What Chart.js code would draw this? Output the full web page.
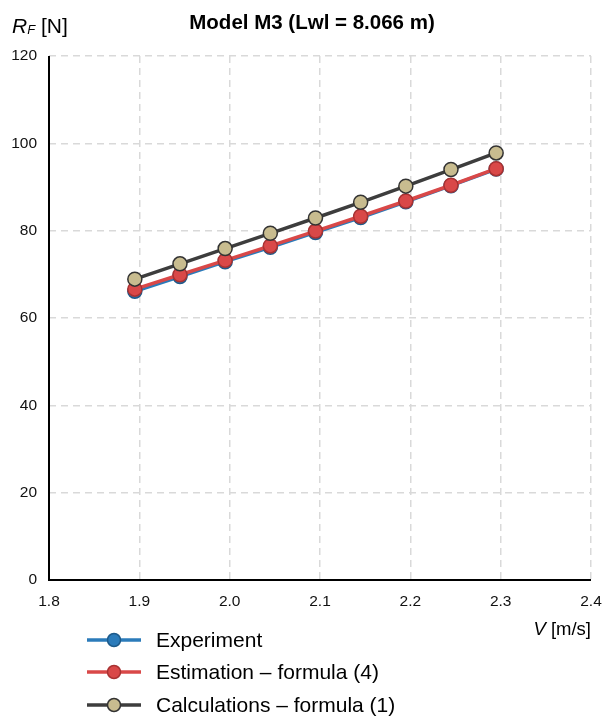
<!DOCTYPE html>
<html>
<head>
<meta charset="utf-8">
<script src="https://cdn.jsdelivr.net/npm/chart.js@4.4.1/dist/chart.umd.min.js"></script>
<style>
  html, body { margin: 0; padding: 0; background: #fff; }
  #wrap { width: 604px; height: 717px; position: relative; }
</style>
</head>
<body>
<div id="wrap"><canvas id="chartM3" width="604" height="717"></canvas></div>
<script>
// velocity V [m/s]
const speeds = [1.895, 1.945, 1.995, 2.045, 2.095, 2.145, 2.195, 2.245, 2.295];
// frictional resistance R_F [N]
const experiment   = [66.1, 69.5, 72.9, 76.2, 79.6, 83.0, 86.6, 90.3, 94.1];
const estimation   = [66.6, 69.9, 73.2, 76.5, 79.9, 83.3, 86.8, 90.4, 94.2];
const calculations = [68.9, 72.4, 75.9, 79.4, 82.9, 86.5, 90.2, 94.0, 97.8];
const xTicks = [1.8, 1.9, 2.0, 2.1, 2.2, 2.3, 2.4];
const yTicks = [0, 20, 40, 60, 80, 100, 120];

const FONT = 'Arial, "Liberation Sans", sans-serif';

function toPoints(ys) {
  return ys.map((y, i) => ({ x: speeds[i], y: y }));
}

// titles, axis names and legend drawn on the canvas
const extras = {
  id: 'extras',
  afterDraw(chart) {
    const c = chart.ctx;
    c.save();
    c.fillStyle = '#000';
    c.textBaseline = 'middle';

    c.font = 'bold 20.5px ' + FONT;
    c.textAlign = 'center';
    c.fillText('Model M3 (Lwl = 8.066 m)', 312, 23);

    // R_F [N]
    c.textAlign = 'left';
    c.font = 'italic 21px ' + FONT;
    c.fillText('R', 12, 27);
    let w = c.measureText('R').width;
    c.font = 'italic 13px ' + FONT;
    c.fillText('F', 12 + w, 30);
    let w2 = c.measureText('F').width;
    c.font = '21px ' + FONT;
    c.fillText(' [N]', 12 + w + w2, 27);

    // V [m/s]
    c.font = '18.5px ' + FONT;
    c.textAlign = 'right';
    c.fillText(' [m/s]', 591, 630);
    const vw = c.measureText(' [m/s]').width;
    c.font = 'italic 18.5px ' + FONT;
    c.fillText('V', 591 - vw, 630);

    // legend
    const rows = [640, 672, 705];
    chart.data.datasets.forEach((ds, i) => {
      const y = rows[i];
      c.strokeStyle = ds.borderColor;
      c.lineWidth = 3.5;
      c.beginPath();
      c.moveTo(87, y);
      c.lineTo(141, y);
      c.stroke();
      c.beginPath();
      c.arc(114, y, 6.5, 0, Math.PI * 2);
      c.fillStyle = ds.pointBackgroundColor;
      c.fill();
      c.lineWidth = 1.5;
      c.strokeStyle = ds.pointBorderColor;
      c.stroke();
      c.fillStyle = '#000';
      c.textAlign = 'left';
      c.font = '21px ' + FONT;
      c.fillText(ds.label, 156, y + 1);
    });

    // axis lines
    const a = chart.chartArea;
    c.strokeStyle = '#000';
    c.lineWidth = 2;
    c.beginPath();
    c.moveTo(a.left, a.top);
    c.lineTo(a.left, a.bottom);
    c.lineTo(a.right, a.bottom);
    c.stroke();
    c.restore();
  }
};

new Chart(document.getElementById('chartM3'), {
  type: 'line',
  data: {
    datasets: [
      {
        label: 'Experiment',
        data: toPoints(experiment),
        borderColor: '#2b7bba',
        pointBackgroundColor: '#2b7bba',
        pointBorderColor: '#1d5a8a',
        order: 3
      },
      {
        label: 'Estimation \u2013 formula (4)',
        data: toPoints(estimation),
        borderColor: '#d94848',
        pointBackgroundColor: '#d94848',
        pointBorderColor: '#a83232',
        order: 2
      },
      {
        label: 'Calculations \u2013 formula (1)',
        data: toPoints(calculations),
        borderColor: '#3d3d3d',
        pointBackgroundColor: '#c8bc8f',
        pointBorderColor: '#333333',
        order: 1
      }
    ]
  },
  options: {
    responsive: false,
    animation: false,
    layout: { padding: { top: 56, right: 13, bottom: 107, left: 0 } },
    elements: {
      line: { borderWidth: 3.5, tension: 0 },
      point: { radius: 7, borderWidth: 1.5, hoverRadius: 7 }
    },
    plugins: {
      legend: { display: false },
      title: { display: false },
      tooltip: { enabled: false }
    },
    scales: {
      x: {
        type: 'linear',
        min: 1.8,
        max: 2.4,
        afterBuildTicks(scale) { scale.ticks = xTicks.map(v => ({ value: v })); },
        afterFit(scale) {
          scale.height = 30;
          scale.paddingLeft = 0;
          scale.paddingRight = 0;
        },
        border: { display: false, dash: [7, 5] },
        grid: { color: '#d9d9d9', lineWidth: 1.5, drawTicks: false },
        ticks: {
          color: '#111',
          font: { family: FONT, size: 15.5 },
          padding: 12,
          callback: v => v.toFixed(1)
        }
      },
      y: {
        min: 0,
        max: 120,
        afterBuildTicks(scale) { scale.ticks = yTicks.map(v => ({ value: v })); },
        afterFit(scale) {
          scale.width = 49;
          scale.paddingTop = 0;
          scale.paddingBottom = 0;
        },
        border: { display: false, dash: [7, 5] },
        grid: { color: '#d9d9d9', lineWidth: 1.5, drawTicks: false },
        ticks: {
          color: '#111',
          font: { family: FONT, size: 15.5 },
          padding: 12
        }
      }
    }
  },
  plugins: [extras]
});
</script>
</body>
</html>
